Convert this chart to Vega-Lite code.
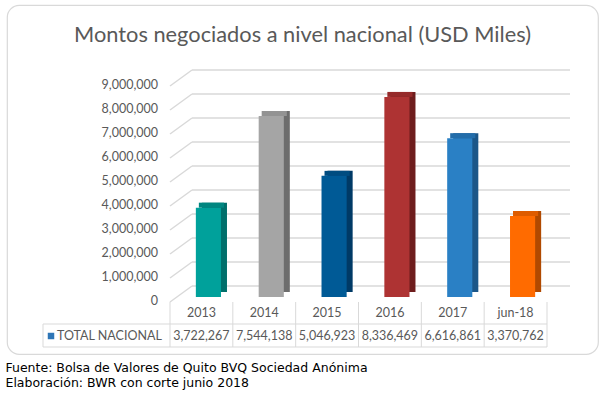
{
  "$schema": "https://vega.github.io/schema/vega-lite/v6.json",
  "autosize": {"type": "none"},
  "width": 591,
  "height": 349,
  "padding": {"left": 7, "top": 5, "right": 7, "bottom": 40},
  "background": "white",
  "config": {
    "view": {"stroke": "#D9D9D9", "strokeWidth": 1.2, "cornerRadius": 12},
    "font": "Lato",
    "axisX": {"labels": false, "ticks": false, "domain": false, "grid": false},
    "axisY": {"disable": true}
  },
  "title": {
    "text": "Montos negociados a nivel nacional (USD Miles)",
    "font": "Lato",
    "fontSize": 21.8,
    "fontWeight": "normal",
    "color": "#595959",
    "anchor": "middle",
    "frame": "group",
    "baseline": "alphabetic",
    "offset": -59
  },
  "datasets": {
    "montos": [
      {"anio": "2013", "valor": 3722267},
      {"anio": "2014", "valor": 7544138},
      {"anio": "2015", "valor": 5046923},
      {"anio": "2016", "valor": 8336469},
      {"anio": "2017", "valor": 6616861},
      {"anio": "jun-18", "valor": 3370762}
    ],
    "grid": [
      {"v": 0}, {"v": 1000000}, {"v": 2000000}, {"v": 3000000}, {"v": 4000000},
      {"v": 5000000}, {"v": 6000000}, {"v": 7000000}, {"v": 8000000}, {"v": 9000000}
    ],
    "serie": [{"serie": "TOTAL NACIONAL"}]
  },
  "data": {"name": "montos"},
  "resolve": {"scale": {"color": "independent"}},
  "layer": [
    {
      "data": {"name": "grid"},
      "mark": {"type": "rule", "color": "#D9D9D9", "strokeWidth": 1.5, "xOffset": 22, "x2Offset": 23, "yOffset": -11},
      "encoding": {
        "x": {
          "datum": "2013", "bandPosition": 0, "type": "nominal",
          "scale": {"type": "band", "domain": ["2013", "2014", "2015", "2016", "2017", "jun-18"], "range": [163, 540], "paddingInner": 0, "paddingOuter": 0, "round": false},
          "axis": {
            "title": ["Fuente: Bolsa de Valores de Quito BVQ Sociedad Anónima", "Elaboración: BWR con corte junio 2018"],
            "titleFont": "DejaVu Sans", "titleFontSize": 12.5, "titleFontWeight": "normal", "titleColor": "#000000",
            "titleAlign": "left", "titleBaseline": "top", "titleX": -2, "titleY": 7, "titleLineHeight": 15, "titleAnchor": "start"
          }
        },
        "x2": {"datum": "jun-18", "bandPosition": 1},
        "y": {
          "field": "v", "type": "quantitative",
          "scale": {"domain": [-2375000, 12166667], "nice": false, "zero": false},
          "axis": null
        }
      }
    },
    {
      "data": {"name": "grid"},
      "mark": {"type": "rule", "color": "#D9D9D9", "strokeWidth": 1.5, "x2Offset": 22, "yOffset": 5, "y2Offset": -11},
      "encoding": {
        "x": {"datum": "2013", "bandPosition": 0, "type": "nominal"},
        "x2": {"datum": "2013", "bandPosition": 0},
        "y": {"field": "v", "type": "quantitative"},
        "y2": {"field": "v"}
      }
    },
    {
      "data": {"name": "grid"},
      "mark": {"type": "text", "font": "Lato", "fontSize": 12.5, "color": "#595959", "align": "right", "baseline": "middle", "xOffset": -12, "yOffset": 4},
      "encoding": {
        "x": {"datum": "2013", "bandPosition": 0, "type": "nominal"},
        "y": {"field": "v", "type": "quantitative"},
        "text": {"field": "v", "type": "quantitative", "format": ",d"}
      }
    },
    {
      "mark": {"type": "bar", "width": {"band": 0.4}, "xOffset": 13, "yOffset": -5, "y2Offset": -5},
      "encoding": {
        "x": {"field": "anio", "type": "nominal", "sort": null},
        "y": {"field": "valor", "type": "quantitative"},
        "y2": {"datum": 0},
        "color": {"field": "anio", "type": "nominal", "sort": null, "legend": null,
          "scale": {"range": ["#006F6B", "#6D6D6D", "#003A66", "#6E1D1D", "#1B5688", "#B04900"]}}
      }
    },
    {
      "mark": {"type": "bar", "width": {"band": 0.4}, "xOffset": 10, "yOffset": -5, "y2Offset": 0},
      "encoding": {
        "x": {"field": "anio", "type": "nominal", "sort": null},
        "y": {"field": "valor", "type": "quantitative"},
        "y2": {"field": "valor"},
        "color": {"field": "anio", "type": "nominal", "sort": null, "legend": null,
          "scale": {"range": ["#008680", "#939393", "#004C80", "#962A2A", "#236DAA", "#DE5C00"]}}
      }
    },
    {
      "mark": {"type": "bar", "width": {"band": 0.4}, "xOffset": 7},
      "encoding": {
        "x": {"field": "anio", "type": "nominal", "sort": null},
        "y": {"field": "valor", "type": "quantitative"},
        "y2": {"datum": 0},
        "color": {"field": "anio", "type": "nominal", "sort": null, "legend": null,
          "scale": {"range": ["#00A19B", "#A5A5A5", "#005A96", "#AE3333", "#2A80C5", "#FF6B00"]}}
      }
    },
    {
      "mark": {"type": "rule", "color": "#D9D9D9", "strokeWidth": 1, "yOffset": 5, "y2Offset": 50},
      "encoding": {
        "x": {"field": "anio", "type": "nominal", "bandPosition": 0},
        "y": {"datum": 0, "type": "quantitative"},
        "y2": {"datum": 0}
      }
    },
    {
      "data": {"name": "serie"},
      "mark": {"type": "rule", "color": "#D9D9D9", "strokeWidth": 1, "yOffset": 5, "y2Offset": 50},
      "encoding": {
        "x": {"datum": "jun-18", "bandPosition": 1, "type": "nominal"},
        "y": {"datum": 0, "type": "quantitative"},
        "y2": {"datum": 0}
      }
    },
    {
      "data": {"name": "serie"},
      "mark": {"type": "rule", "color": "#D9D9D9", "strokeWidth": 1, "xOffset": -127, "yOffset": 27, "y2Offset": 50},
      "encoding": {
        "x": {"datum": "2013", "bandPosition": 0, "type": "nominal"},
        "y": {"datum": 0, "type": "quantitative"},
        "y2": {"datum": 0}
      }
    },
    {
      "data": {"name": "serie"},
      "mark": {"type": "rule", "color": "#D9D9D9", "strokeWidth": 1, "xOffset": -127, "yOffset": 27},
      "encoding": {
        "x": {"datum": "2013", "bandPosition": 0, "type": "nominal"},
        "x2": {"datum": "jun-18", "bandPosition": 1},
        "y": {"datum": 0, "type": "quantitative"}
      }
    },
    {
      "data": {"name": "serie"},
      "mark": {"type": "rule", "color": "#D9D9D9", "strokeWidth": 1, "xOffset": -127, "yOffset": 50},
      "encoding": {
        "x": {"datum": "2013", "bandPosition": 0, "type": "nominal"},
        "x2": {"datum": "jun-18", "bandPosition": 1},
        "y": {"datum": 0, "type": "quantitative"}
      }
    },
    {
      "mark": {"type": "text", "font": "Lato", "fontSize": 12.5, "color": "#595959", "baseline": "middle", "align": "center", "yOffset": 16},
      "encoding": {
        "x": {"field": "anio", "type": "nominal"},
        "y": {"datum": 0, "type": "quantitative"},
        "text": {"field": "anio"}
      }
    },
    {
      "mark": {"type": "text", "font": "Lato", "fontSize": 12.5, "color": "#595959", "baseline": "middle", "align": "center", "yOffset": 39},
      "encoding": {
        "x": {"field": "anio", "type": "nominal"},
        "y": {"datum": 0, "type": "quantitative"},
        "text": {"field": "valor", "type": "quantitative", "format": ",d"}
      }
    },
    {
      "data": {"name": "serie"},
      "mark": {"type": "point", "shape": "square", "filled": true, "size": 42, "color": "#2E75B6", "opacity": 1, "xOffset": -119, "yOffset": 39},
      "encoding": {
        "x": {"datum": "2013", "bandPosition": 0, "type": "nominal"},
        "y": {"datum": 0, "type": "quantitative"}
      }
    },
    {
      "data": {"name": "serie"},
      "mark": {"type": "text", "font": "Lato", "fontSize": 12.5, "color": "#595959", "baseline": "middle", "align": "left", "xOffset": -113, "yOffset": 39},
      "encoding": {
        "x": {"datum": "2013", "bandPosition": 0, "type": "nominal"},
        "y": {"datum": 0, "type": "quantitative"},
        "text": {"field": "serie"}
      }
    }
  ]
}
